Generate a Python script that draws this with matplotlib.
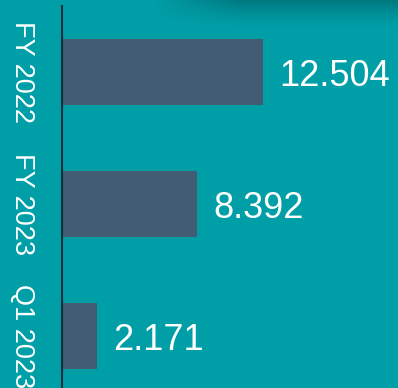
import numpy as np
import matplotlib
matplotlib.use("Agg")
import matplotlib.pyplot as plt

categories = ["FY 2022", "FY 2023", "Q1 2023"]
values = [12.504, 8.392, 2.171]
value_labels = ["12.504", "8.392", "2.171"]

BG = "#009FA8"
BAR = "#415C73"
W, H = 398, 388

plt.rcParams["font.family"] = ["Liberation Sans", "DejaVu Sans"]

fig = plt.figure(figsize=(W / 100, H / 100), dpi=100, facecolor=BG)

# soft shadow along the top edge
bg_ax = fig.add_axes([0, 0, 1, 1], zorder=0)
bg_ax.set_axis_off()
xx = np.linspace(0, W, W)
yy = np.linspace(0, H, H)
X, Y = np.meshgrid(xx, yy)
fx = np.clip((X - 150) / 90.0, 0, 1)
fy = np.clip(1 - Y / 28.0, 0, 1) ** 1.3
alpha = 0.24 * fx * fy
shade = np.zeros((H, W, 4))
shade[..., 3] = alpha
bg_ax.imshow(shade, extent=[0, W, H, 0], aspect="auto", interpolation="bilinear")
bg_ax.set_xlim(0, W)
bg_ax.set_ylim(H, 0)

left = 62 / W
top = 1 - 6 / H
bottom = 1 - 402 / H
ax = fig.add_axes([left, bottom, 1.2 - left, top - bottom], zorder=1)
ax.patch.set_alpha(0)

y = np.arange(len(categories))
ax.barh(y, values, height=0.5, color=BAR)
px_per_unit = 16.08
ax.set_xlim(0, (1.2 - left) * W / px_per_unit)
ax.set_ylim(len(categories) - 0.5, -0.5)

for yi, v, lab in zip(y, values, value_labels):
    ax.annotate(lab, (v, yi), xytext=(12, 0), textcoords="offset points",
                va="center_baseline", ha="left", color="white", fontsize=26)

ax.set_yticks(y)
ax.set_yticklabels(categories, rotation=270, va="center", ha="center",
                   color="white", fontsize=19.5)
ax.tick_params(axis="y", length=0, pad=28.5)
ax.set_xticks([])
for s in ["top", "right", "bottom"]:
    ax.spines[s].set_visible(False)
ax.spines["left"].set_color("#13303a")
ax.spines["left"].set_linewidth(1.5)

fig.savefig("out.png", dpi=100, facecolor=BG)
